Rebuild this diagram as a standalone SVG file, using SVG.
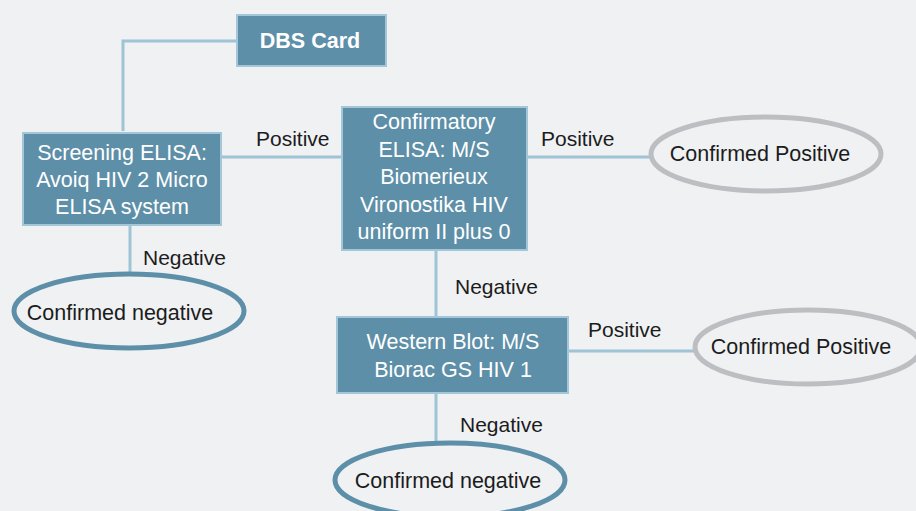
<svg xmlns="http://www.w3.org/2000/svg" width="916" height="511" viewBox="0 0 916 511">
<style>
.box{fill:#5e8fa8;stroke:#a3c6d8;stroke-width:2}
.bt{fill:#ffffff;font-family:"Liberation Sans",Arial,sans-serif;font-size:21.5px;text-anchor:middle}
.lbl{fill:#1c1c1c;font-family:"Liberation Sans",Arial,sans-serif;font-size:21px}
.et{fill:#1c1c1c;font-family:"Liberation Sans",Arial,sans-serif;font-size:21.5px;text-anchor:middle}
.pos{fill:#eff1f3;stroke:#bdbec2;stroke-width:5}
.neg{fill:#eff1f3;stroke:#5e8fa8;stroke-width:5}
.conn{fill:none;stroke:#9fc4d6;stroke-width:3}
</style>
<rect x="0" y="0" width="916" height="511" fill="#eff1f3"/>
<g id="connectors">
<polyline class="conn" points="236,41 123,41 123,131"/>
<line class="conn" x1="221" y1="157" x2="342" y2="157"/>
<line class="conn" x1="527" y1="157" x2="650" y2="157"/>
<line class="conn" x1="130" y1="225" x2="130" y2="272"/>
<line class="conn" x1="436" y1="250" x2="436" y2="317"/>
<line class="conn" x1="568" y1="351" x2="694" y2="351"/>
<line class="conn" x1="436" y1="393" x2="436" y2="442"/>
<text class="lbl" x="256" y="146">Positive</text>
<text class="lbl" x="541" y="146">Positive</text>
<text class="lbl" x="143" y="265">Negative</text>
<text class="lbl" x="455" y="294">Negative</text>
<text class="lbl" x="588" y="337">Positive</text>
<text class="lbl" x="460" y="432">Negative</text>
</g>
<g id="dbs">
<rect class="box" x="237" y="15" width="149" height="51"/>
<text class="bt" x="310" y="48" font-weight="bold" font-size="19.5">DBS Card</text>
</g>
<g id="screening">
<rect class="box" x="23" y="133" width="198" height="92"/>
<text class="bt" x="122" y="160">Screening ELISA:</text>
<text class="bt" x="122" y="187">Avoiq HIV 2 Micro</text>
<text class="bt" x="122" y="214">ELISA system</text>
</g>
<g id="confirmatory">
<rect class="box" x="342" y="107" width="185" height="143"/>
<text class="bt" x="434" y="129">Confirmatory</text>
<text class="bt" x="434" y="157">ELISA: M/S</text>
<text class="bt" x="434" y="184">Biomerieux</text>
<text class="bt" x="434" y="212">Vironostika HIV</text>
<text class="bt" x="434" y="239">uniform II plus 0</text>
</g>
<g id="western">
<rect class="box" x="337" y="317" width="231" height="76"/>
<text class="bt" x="453" y="349">Western Blot: M/S</text>
<text class="bt" x="453" y="377">Biorac GS HIV 1</text>
</g>
<g id="pos1">
<ellipse class="pos" cx="766" cy="154" rx="115" ry="37"/>
<text class="et" x="760" y="161">Confirmed Positive</text>
</g>
<g id="neg1">
<ellipse class="neg" cx="129" cy="311" rx="115" ry="37"/>
<text class="et" x="120" y="320">Confirmed negative</text>
</g>
<g id="pos2">
<ellipse class="pos" cx="808" cy="347" rx="113" ry="37"/>
<text class="et" x="801" y="354">Confirmed Positive</text>
</g>
<g id="neg2">
<ellipse class="neg" cx="450" cy="480" rx="115" ry="37"/>
<text class="et" x="448" y="488">Confirmed negative</text>
</g>
</svg>
